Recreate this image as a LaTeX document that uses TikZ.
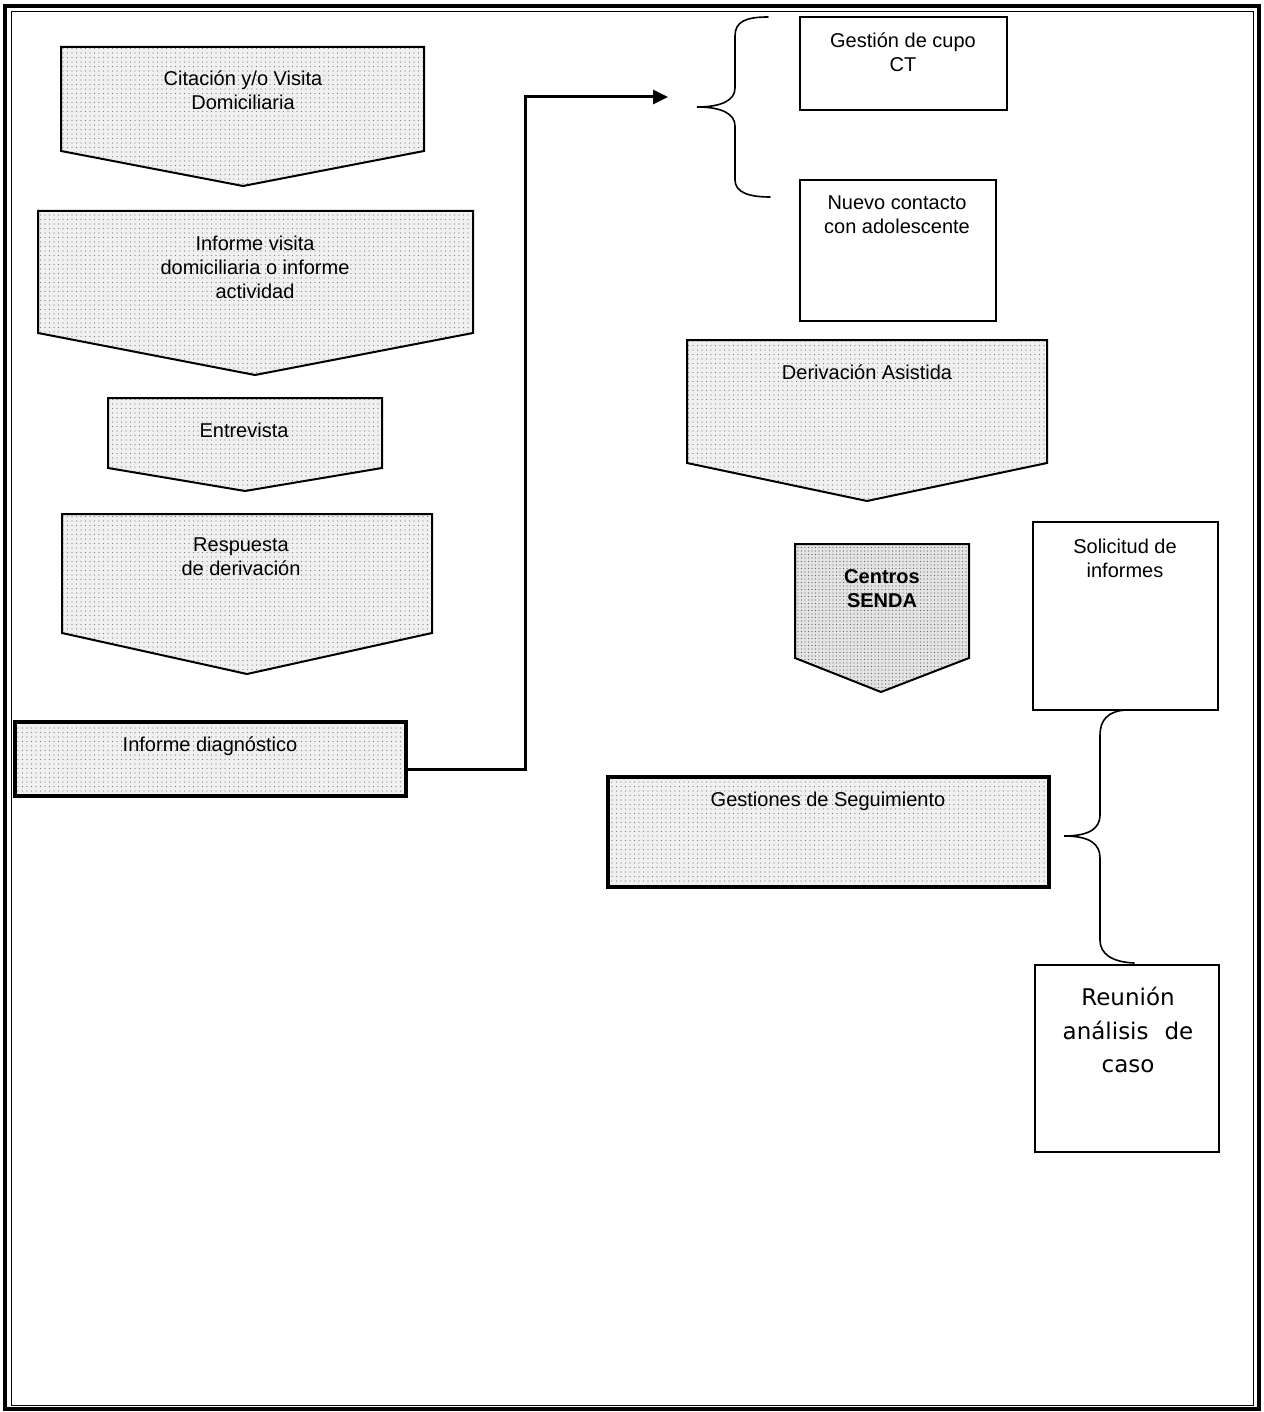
\documentclass[tikz,border=0pt]{standalone}
\usepackage{fontspec}
\setmainfont{Liberation Sans}
\newfontfamily\reufont{DejaVu Sans}
\usetikzlibrary{arrows.meta,patterns,patterns.meta}
\begin{document}
\begin{tikzpicture}[x=1pt,y=-1pt,
  txt/.style={font=\fontsize{20}{24}\selectfont, align=center, inner sep=0pt},
  textured/.style={preaction={fill=black!6}, pattern={Dots[distance=4.5pt, radius=0.55pt]}, pattern color=black!50},
  dense/.style={preaction={fill=black!11}, pattern={Dots[distance=3.5pt, radius=0.6pt]}, pattern color=black!60},
  pent/.style={draw=black, line width=2pt, line join=miter, textured},
  plainbox/.style={draw=black, line width=2pt, fill=white, inner sep=0pt},
  thickbox/.style={draw=black, line width=3.2pt, inner sep=0pt, textured},
  conn/.style={draw=black, line width=3pt},
  bracestyle/.style={draw=black, line width=1.6pt, line cap=round}
]
\useasboundingbox (0,0) rectangle (1263,1412);
\fill[white] (0,0) rectangle (1263,1412);
% outer frame
\draw[line width=4pt] (5,6) rectangle (1259,1409);
\draw[line width=1pt] (11,12) rectangle (1253,1405);

% left column chevrons
\path[pent] (61,47) -- (424,47) -- (424,151) -- (243,186) -- (61,151) -- cycle;
\node[txt] (citacion) at (243,90.5) {Citación y/o Visita\\Domiciliaria};

\path[pent] (38,211) -- (473,211) -- (473,333) -- (255,375) -- (38,333) -- cycle;
\node[txt] (informevisita) at (255,267) {Informe visita\\domiciliaria o informe\\actividad};

\path[pent] (108,398) -- (382,398) -- (382,468) -- (245,491) -- (108,468) -- cycle;
\node[txt] (entrevista) at (244,430) {Entrevista};

\path[pent] (62,514) -- (432,514) -- (432,633) -- (247,674) -- (62,633) -- cycle;
\node[txt] (respuesta) at (241,557) {Respuesta\\de derivación};

\node[thickbox, minimum width=391pt, minimum height=74pt] (diag) at (210.5,759) {};
\node[txt] (diagT) at (210,746) {Informe diagnóstico};

% right column
\node[plainbox, minimum width=207pt, minimum height=93pt] (cupo) at (903.5,63.5) {};
\node[txt] (cupoT) at (903,52.5) {Gestión de cupo\\CT};

\node[plainbox, minimum width=196pt, minimum height=141pt] (nuevo) at (898,250.5) {};
\node[txt] (nuevoT) at (897,215) {Nuevo contacto\\con adolescente};

\path[pent] (687,340) -- (1047,340) -- (1047,463) -- (867,501) -- (687,463) -- cycle;
\node[txt] (derivacion) at (867,372) {Derivación Asistida};

\path[draw=black, line width=2pt, line join=miter, dense] (795,544) -- (969,544) -- (969,658) -- (881,692) -- (795,658) -- cycle;
\node[txt, font=\fontsize{20}{23.5}\selectfont\bfseries] (senda) at (882,588.5) {Centros\\SENDA};

\node[plainbox, minimum width=185pt, minimum height=188pt] (solicitud) at (1125.5,616) {};
\node[txt] (solicitudT) at (1125,558) {Solicitud de\\informes};

\node[thickbox, line width=3.5pt, minimum width=441pt, minimum height=110pt] (seguimiento) at (828.5,832) {};
\node[txt] (seguimientoT) at (828,801) {Gestiones de Seguimiento};

\node[plainbox, minimum width=184pt, minimum height=187pt] (reunion) at (1127,1058.5) {};
\node[align=center, inner sep=0pt, font=\reufont\fontsize{23}{33.5}\selectfont] (reunionT) at (1128,1030) {Reunión\\análisis\hspace{16pt}de\\caso};

% connector with arrow
\coordinate (arrtip) at (668,97);
\draw[conn, -{Triangle[length=15pt,width=14pt]}] ([yshift=-10pt]diag.east) -- ++(118,0) |- (arrtip);

% braces
\coordinate (b1top) at (768,17);
\coordinate (b1tip) at (697,107);
\coordinate (b1bot) at (770,197);
\draw[bracestyle] (b1top) .. controls (745,17) and (735,22) .. (735,36) -- (735,88)
  .. controls (735,100) and (722,107) .. (b1tip)
  .. controls (722,107) and (735,114) .. (735,126) -- (735,180)
  .. controls (735,192) and (748,197) .. (b1bot);

\coordinate (b2top) at (1126,710);
\coordinate (b2tip) at (1064,836);
\coordinate (b2bot) at (1134,963);
\draw[bracestyle] (b2top) .. controls (1108,711) and (1100,720) .. (1100,735) -- (1100,815)
  .. controls (1100,828) and (1090,836) .. (b2tip)
  .. controls (1090,836) and (1100,844) .. (1100,858) -- (1100,940)
  .. controls (1100,954) and (1112,962) .. (b2bot);
\end{tikzpicture}
\end{document}
